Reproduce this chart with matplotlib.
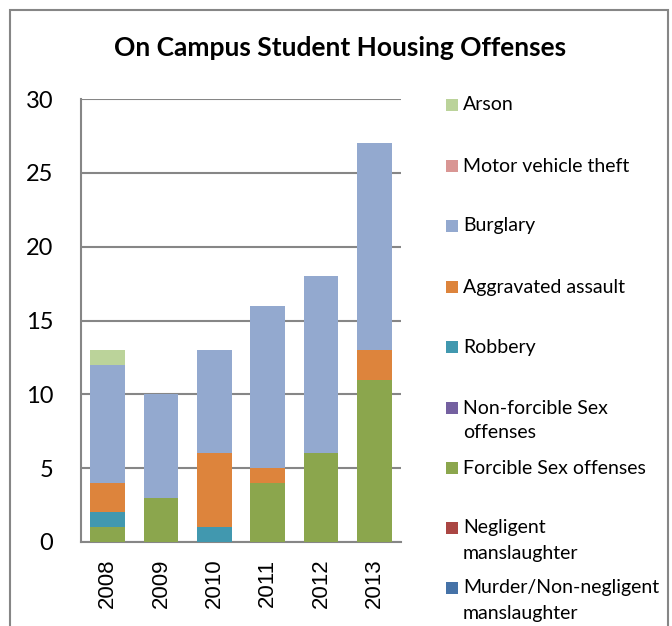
import matplotlib
matplotlib.use("Agg")
import matplotlib.pyplot as plt
from matplotlib.patches import Rectangle
import numpy as np

years = ["2008", "2009", "2010", "2011", "2012", "2013"]

# stacking order bottom -> top
murder = [0, 0, 0, 0, 0, 0]
negligent = [0, 0, 0, 0, 0, 0]
forcible = [1, 3, 0, 4, 6, 11]
nonforcible = [0, 0, 0, 0, 0, 0]
robbery = [1, 0, 1, 0, 0, 0]
aggravated = [2, 0, 5, 1, 0, 2]
burglary = [8, 7, 7, 11, 12, 14]
motor = [0, 0, 0, 0, 0, 0]
arson = [1, 0, 0, 0, 0, 0]

series_names = ["Murder/Non-negligent\nmanslaughter", "Negligent\nmanslaughter",
                "Forcible Sex offenses", "Non-forcible Sex\noffenses", "Robbery",
                "Aggravated assault", "Burglary", "Motor vehicle theft", "Arson"]
series_values = [murder, negligent, forcible, nonforcible, robbery,
                 aggravated, burglary, motor, arson]
colors = ["#4572A7", "#AA4643", "#8BA64D", "#7460A0", "#4198AF",
          "#DD843C", "#93A9CF", "#D99694", "#BBD39A"]

W, H = 672, 626
fig = plt.figure(figsize=(W / 100, H / 100), dpi=100)

def fx(x):
    return x / W

def fy(y):
    return 1 - y / H

gray = "#868686"

ax = fig.add_axes([fx(81), fy(542), (401 - 81) / W, (542 - 99) / H])
x = np.arange(len(years))
bottom = np.zeros(len(years))
for vals, col in zip(series_values, colors):
    v = np.array(vals, dtype=float)
    ax.bar(x, v, bottom=bottom, width=0.65, color=col, edgecolor="none", zorder=3)
    bottom += v

ax.set_xlim(-0.5, len(years) - 0.5)
ax.set_ylim(0, 30)
ax.set_yticks(range(0, 31, 5))
ax.set_xticks(x)
ax.set_xticklabels(years, rotation=90, fontsize=16, family="Liberation Sans")
for lab in ax.get_yticklabels():
    lab.set_family("Lato")
    lab.set_fontsize(17)
ax.tick_params(axis="both", length=0, pad=20)
ax.tick_params(axis="x", pad=12)
ax.yaxis.grid(True, color=gray, linewidth=1.5, zorder=0)
for s in ["top", "right"]:
    ax.spines[s].set_visible(False)
for s in ["left", "bottom"]:
    ax.spines[s].set_color(gray)
    ax.spines[s].set_linewidth(1.5)

fig.text(fx(340), fy(48), "On Campus Student Housing Offenses", ha="center", va="center",
         fontsize=19, fontweight="bold", family="Lato")

# legend (top to bottom: reverse of stacking order)
leg_y = [588, 528, 468, 408, 347, 287, 226, 166, 105]
for name, col, y in zip(series_names, colors, leg_y):
    fig.patches.append(Rectangle((fx(446), fy(y + 6)), 12 / W, 12 / H,
                                 transform=fig.transFigure, facecolor=col, edgecolor="none"))
    for i, line in enumerate(name.split("\n")):
        fig.text(fx(463), fy(y + 25 * i), line, ha="left", va="center",
                 fontsize=14, family="Lato")

# outer frame
fig.patches.append(Rectangle((fx(9.5), fy(700)), (668 - 9.5) / W, (700 - 9.5) / H,
                             transform=fig.transFigure, facecolor="none",
                             edgecolor=gray, linewidth=1.5, clip_on=False))

fig.savefig("out.png", dpi=100)
